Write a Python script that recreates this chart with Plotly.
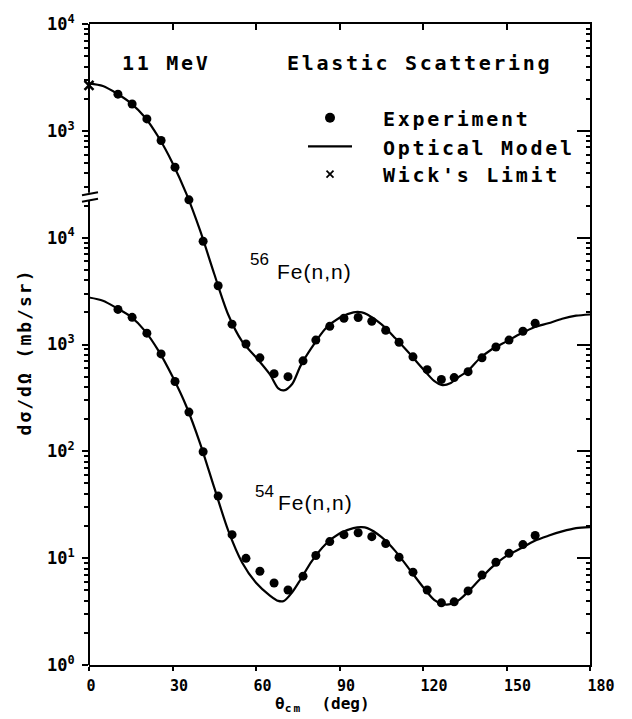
import plotly.graph_objects as go

# Centre-of-mass scattering angles of the measured points (deg)
exp_angle = [10.4, 15.5, 20.8, 25.9, 30.9, 35.9, 41.0, 46.4, 51.4, 56.4, 61.4,
             66.5, 71.5, 76.9, 81.5, 86.5, 91.6, 96.7, 101.6, 106.6, 111.4,
             116.4, 121.5, 126.6, 131.2, 136.2, 141.2, 146.2, 150.9, 155.9, 160.3]

# Measured elastic cross sections (mb/sr)
fe54_exp = [2130, 1796, 1277, 817, 450, 233, 99, 38.1, 16.6, 9.96, 7.55,
            5.85, 5.04, 6.79, 10.6, 14.3, 16.6, 17.3, 15.9, 13.7, 10.2,
            7.4, 5.04, 3.82, 3.9, 4.94, 6.94, 9.15, 11.1, 13.4, 16.3]
fe56_exp = [2203, 1782, 1294, 811, 456, 226, 92.5, 35.5, 15.5, 10.1, 7.50,
            5.33, 5.00, 7.03, 11.0, 14.8, 17.6, 17.9, 16.5, 13.6, 10.5,
            7.66, 5.81, 4.70, 4.90, 5.57, 7.50, 9.48, 11.0, 13.3, 15.8]

# Optical-model calculation (mb/sr)
model_angle = [0, 5, 10, 15, 20, 25, 30, 35, 40, 45, 50, 55, 60, 65, 68, 70,
               73, 76, 80, 85, 90, 95, 98, 100, 105, 110, 115, 120, 124, 127,
               130, 133, 136, 140, 145, 150, 155, 160, 165, 170, 175, 180]
fe54_model = [2754, 2570, 2188, 1820, 1349, 871, 501, 263, 117, 45.7, 18.2,
              9.12, 5.89, 4.47, 3.98, 3.98, 4.79, 6.31, 9.33, 13.5, 17.0,
              19.1, 19.5, 19.1, 15.8, 11.7, 7.94, 5.37, 4.07, 3.72, 3.72,
              4.07, 4.79, 6.17, 8.32, 10.5, 12.3, 14.5, 16.2, 17.8, 19.1, 19.5]
fe56_model = [2786, 2630, 2239, 1820, 1349, 871, 501, 257, 115, 45.7, 19.1,
              10.7, 7.59, 5.25, 3.89, 3.72, 4.27, 6.31, 9.33, 14.1, 17.8,
              20.0, 20.0, 19.1, 15.5, 11.5, 8.32, 5.89, 4.57, 4.17, 4.37,
              5.01, 5.62, 7.24, 9.12, 10.7, 12.6, 14.5, 15.8, 17.4, 18.6, 19.1]

# Wick's limit (forward-angle lower bound), 56Fe
wick_angle = [0]
fe56_wick = [2670]

# 56Fe is displaced upward by two decades on the shared log axis
FE56_SHIFT = 100.0

x_tickvals = [0, 30, 60, 90, 120, 150, 180]
x_ticktext = ["0", "30", "60", "90", "120", "150", "180"]
y_tickvals = [1, 10, 100, 1e3, 1e4, 1e5, 1e6]
y_ticktext = ["10<sup>0</sup>", "10<sup>1</sup>", "10<sup>2</sup>", "10<sup>3</sup>",
              "10<sup>4</sup>", "10<sup>3</sup>", "10<sup>4</sup>"]
y_minorvals = [m * 10 ** e for e in range(6) for m in range(2, 10)]

# log10 positions where the left axis is interrupted
BREAK_LO, BREAK_HI = 4.345, 4.42
Y_LOG_RANGE = [0, 6]

MONO = "DejaVu Sans Mono"
SANS = "Liberation Sans"
INK = "black"


def spaced(text, px):
    return f"<span style='letter-spacing:{px}px'>{text}</span>"


def pad3(label):
    # left-align tick labels at the tick by padding to a common width
    return label + "\u00a0" * (3 - len(label))


fig = go.Figure()

# 54Fe: curve on the labelled left axis, points on the left minor-tick axis
fig.add_trace(go.Scatter(x=model_angle, y=fe54_model, mode="lines",
                         line=dict(color=INK, width=2.2, shape="spline", smoothing=0.8),
                         xaxis="x", yaxis="y", showlegend=False))
fig.add_trace(go.Scatter(x=exp_angle, y=fe54_exp, mode="markers",
                         marker=dict(color=INK, size=9),
                         xaxis="x", yaxis="y3", showlegend=False))

# 56Fe (shifted): curve on the right axis, points on the right minor-tick axis
fig.add_trace(go.Scatter(x=model_angle, y=[v * FE56_SHIFT for v in fe56_model], mode="lines",
                         line=dict(color=INK, width=2.2, shape="spline", smoothing=0.8),
                         xaxis="x2", yaxis="y2", showlegend=False))
fig.add_trace(go.Scatter(x=exp_angle, y=[v * FE56_SHIFT for v in fe56_exp], mode="markers",
                         marker=dict(color=INK, size=9),
                         xaxis="x2", yaxis="y4", showlegend=False))
fig.add_trace(go.Scatter(x=wick_angle, y=[v * FE56_SHIFT for v in fe56_wick], mode="markers",
                         marker=dict(color=INK, size=9, symbol="x-thin",
                                     line=dict(color=INK, width=2.5)),
                         cliponaxis=False,
                         xaxis="x2", yaxis="y4", showlegend=False))

tick_font_x = dict(family=MONO, size=15, color=INK, weight="bold")
tick_font_y = dict(family=MONO, size=17, color=INK, weight="bold")

common_x = dict(range=[0, 180], tickmode="array", tickvals=x_tickvals,
                showgrid=False, zeroline=False, showline=True,
                linewidth=2, linecolor=INK, tickcolor=INK, tickwidth=2)
common_y = dict(type="log", range=Y_LOG_RANGE, tickmode="array",
                showgrid=False, zeroline=False, tickcolor=INK)

fig.update_layout(
    width=632, height=719, autosize=False,
    margin=dict(l=89, r=42, t=16, b=54, pad=0),
    paper_bgcolor="white", plot_bgcolor="white",
    showlegend=False,
    xaxis=dict(**common_x, ticks="outside", ticklen=4,
               ticktext=[pad3(t) for t in x_ticktext],
               tickfont=tick_font_x, ticklabelshift=11, ticklabelstandoff=2),
    xaxis2=dict(**common_x, overlaying="x", side="top", anchor="y2",
                ticks="inside", ticklen=6, showticklabels=False),
    # left: decade ticks with labels
    yaxis=dict(**common_y, tickvals=y_tickvals, ticks="outside", ticklen=6,
               tickwidth=2, showline=False, ticktext=y_ticktext,
               tickfont=tick_font_y, ticklabelstandoff=4),
    # right: long inward decade ticks and the frame line
    yaxis2=dict(**common_y, tickvals=y_tickvals, overlaying="y", side="right",
                anchor="x2", ticks="inside", ticklen=13, tickwidth=2,
                showline=True, linewidth=2, linecolor=INK, showticklabels=False),
    # left minor ticks
    yaxis3=dict(**common_y, tickvals=y_minorvals, overlaying="y", side="left",
                anchor="x", ticks="outside", ticklen=4, tickwidth=1.6,
                showline=False, showticklabels=False),
    # right minor ticks
    yaxis4=dict(**common_y, tickvals=y_minorvals, overlaying="y", side="right",
                anchor="x2", ticks="inside", ticklen=4, tickwidth=1.6,
                showline=False, showticklabels=False),
)

lo = BREAK_LO / Y_LOG_RANGE[1]
hi = BREAK_HI / Y_LOG_RANGE[1]
shapes = [
    # left axis, drawn in two pieces around the break
    dict(type="line", xref="paper", yref="paper", x0=0, x1=0, y0=0, y1=lo,
         line=dict(color=INK, width=2)),
    dict(type="line", xref="paper", yref="paper", x0=0, x1=0, y0=hi, y1=1,
         line=dict(color=INK, width=2)),
]
for anchor, dy in ((lo, 0.5), (hi, -1.0)):
    shapes.append(dict(type="line", xref="paper", yref="paper",
                       xsizemode="pixel", ysizemode="pixel",
                       xanchor=0, yanchor=anchor,
                       x0=-7, x1=9, y0=dy - 1.5, y1=dy + 1.5,
                       line=dict(color=INK, width=2)))

# legend keys
key_x = (330 - 89) / 501
shapes.append(dict(type="circle", xref="paper", yref="paper",
                   xsizemode="pixel", ysizemode="pixel",
                   xanchor=key_x, yanchor=(665 - 111) / 649,
                   x0=-5, x1=5, y0=-5, y1=5,
                   fillcolor=INK, line=dict(color=INK, width=0)))
shapes.append(dict(type="line", xref="paper", yref="paper",
                   x0=(308 - 89) / 501, x1=(352 - 89) / 501,
                   y0=(665 - 140) / 649, y1=(665 - 140) / 649,
                   line=dict(color=INK, width=2.2)))
for sx in (-1, 1):
    shapes.append(dict(type="line", xref="paper", yref="paper",
                       xsizemode="pixel", ysizemode="pixel",
                       xanchor=key_x, yanchor=(665 - 168) / 649,
                       x0=-3.5, x1=3.5, y0=-3.5 * sx, y1=3.5 * sx,
                       line=dict(color=INK, width=1.8)))
fig.update_layout(shapes=shapes)

mono_big = dict(family=MONO, size=20, color=INK, weight="bold")


def note(text, x, y, font, xanchor="left", yanchor="middle", angle=0):
    fig.add_annotation(text=text, xref="paper", yref="paper", x=x, y=y,
                       xanchor=xanchor, yanchor=yanchor, showarrow=False,
                       font=font, textangle=angle)


def px_x(p):
    return (p - 89) / 501


def px_y(p):
    return (665 - p) / 649


note(spaced("11 MeV", 2.7), px_x(120), px_y(55), mono_big)
note(spaced("Elastic Scattering", 2.7), px_x(285), px_y(55), mono_big)
note(spaced("Experiment", 2.7), px_x(381), px_y(112), mono_big)
note(spaced("Optical Model", 2.7), px_x(381), px_y(141.5), mono_big)
note(spaced("Wick's Limit", 2.7), px_x(381), px_y(169), mono_big)

# nuclide labels: mass number raised above the element symbol
mass_font = dict(family=SANS, size=17, color=INK)
fe_font = dict(family=SANS, size=21, color=INK)
note("56", px_x(248), px_y(254), mass_font)
note(spaced("Fe(n,n)", 1), px_x(275), px_y(267), fe_font)
note("54", px_x(253), px_y(489), mass_font)
note(spaced("Fe(n,n)", 1), px_x(276), px_y(500), fe_font)

note(spaced("d\u03c3/d\u03a9 (mb/sr)", 2), px_x(24.5), px_y(348),
     dict(family=MONO, size=18, color=INK, weight="bold"),
     xanchor="center", angle=-90)
note("\u03b8<sub>" + spaced("cm", 2) + "</sub>\u00a0\u00a0(deg)", px_x(273), px_y(705),
     dict(family=MONO, size=16, color=INK, weight="bold"))

fig.write_html("out.html")
